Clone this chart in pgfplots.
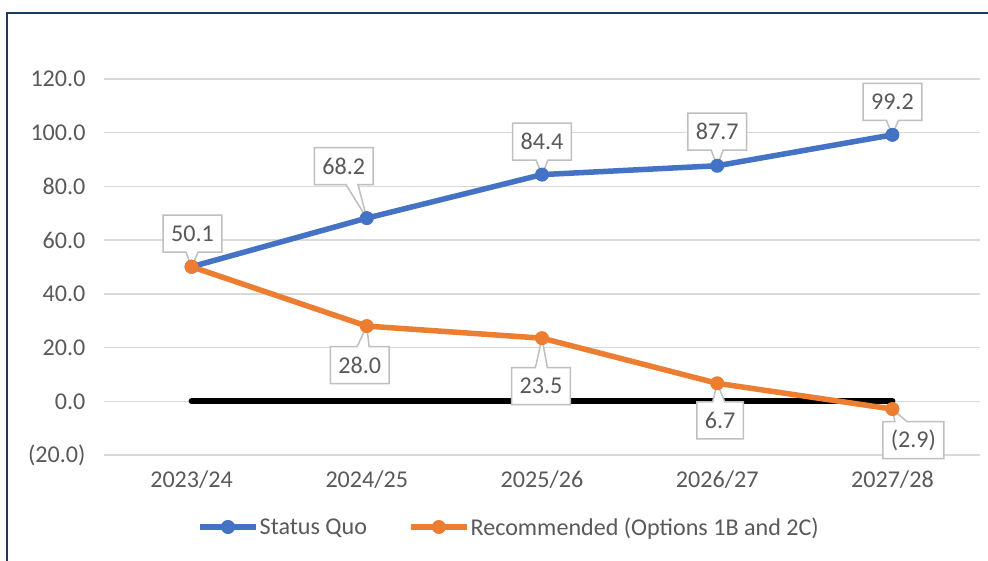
\documentclass[border=0pt]{standalone}
\usepackage{fontspec}
\setmainfont{Carlito}
\usepackage{pgfplots}
\pgfplotsset{compat=1.18}
\usetikzlibrary{shapes.callouts,calc}
\definecolor{sqblue}{HTML}{4472C4}
\definecolor{rcorange}{HTML}{ED7D31}
\definecolor{txt}{HTML}{595959}
\definecolor{grd}{HTML}{D9D9D9}
\definecolor{bxd}{HTML}{BFBFBF}
\definecolor{framec}{HTML}{1F3763}
\newcommand{\fs}{\fontsize{24.1}{28}\selectfont}
\begin{document}
\begin{tikzpicture}[x=1pt,y=1pt,font=\fs,
  lbl/.style={rectangle callout, draw=bxd, fill=white, line width=1.5pt, text=txt,
    minimum height=37pt, inner xsep=8pt, callout pointer width=12pt, font=\fs}]
\begin{axis}[
  at={(104pt,105pt)}, anchor=south west,
  scale only axis, width=876pt, height=376pt,
  xmin=-0.5, xmax=4.5, ymin=-20, ymax=120,
  xtick={0,1,2,3,4}, xticklabels={2023/24,2024/25,2025/26,2026/27,2027/28},
  ytick={-20,0,20,40,60,80,100,120},
  yticklabels={(20.0),0.0,20.0,40.0,60.0,80.0,100.0,120.0},
  /pgf/number format/assume math mode=true,
  ymajorgrids, major grid style={grd, line width=1.5pt},
  axis line style={draw=none},
  major tick length=0pt,
  tick label style={text=txt, font=\fs},
  xticklabel style={yshift=-12pt},
  yticklabel style={xshift=-15pt},
  clip=false,
  legend style={at={(0.4618,-0.1915)}, anchor=center, draw=none, fill=none,
    legend columns=2, font=\fs, text=txt,
    /tikz/every even column/.append style={column sep=40pt},
    nodes={inner xsep=1pt}},
  legend image code/.code={\draw[#1, mark repeat=2, mark phase=2]
     plot coordinates {(0pt,0pt) (28pt,0pt) (56pt,0pt)};},
]
\addplot[black, line width=6pt, line cap=round, forget plot] coordinates {(0,0) (4,0)};
\addplot[sqblue, line width=5.5pt, mark=*, mark size=6.5pt,
  mark options={solid, fill=sqblue, draw=sqblue, line width=1pt}]
  coordinates {(0,50.1) (1,68.2) (2,84.4) (3,87.7) (4,99.2)};
\addlegendentry{Status Quo}
\addplot[rcorange, line width=5.5pt, mark=*, mark size=6.5pt,
  mark options={solid, fill=rcorange, draw=rcorange, line width=1pt}]
  coordinates {(0,50.1) (1,28.0) (2,23.5) (3,6.7) (4,-2.9)};
\addlegendentry{Recommended (Options 1B and 2C)}

\node[lbl, callout absolute pointer={(axis cs:0,50.1)}] at ($(axis cs:0,50.1)+(1pt,33pt)$) {50.1};
\node[lbl, callout absolute pointer={(axis cs:1,68.2)}] at ($(axis cs:1,68.2)+(-23pt,52pt)$) {68.2};
\node[lbl, callout absolute pointer={(axis cs:2,84.4)}] at ($(axis cs:2,84.4)+(0pt,33pt)$) {84.4};
\node[lbl, callout absolute pointer={(axis cs:3,87.7)}] at ($(axis cs:3,87.7)+(0pt,34pt)$) {87.7};
\node[lbl, callout absolute pointer={(axis cs:4,99.2)}] at ($(axis cs:4,99.2)+(0pt,33pt)$) {99.2};
\node[lbl, callout absolute pointer={(axis cs:1,28.0)}] at ($(axis cs:1,28.0)+(-7pt,-39pt)$) {28.0};
\node[lbl, callout absolute pointer={(axis cs:2,23.5)}] at ($(axis cs:2,23.5)+(-1pt,-48pt)$) {23.5};
\node[lbl, callout absolute pointer={(axis cs:3,6.7)}] at ($(axis cs:3,6.7)+(3pt,-37pt)$) {6.7};
\node[lbl, callout absolute pointer={(axis cs:4,-2.9)}] at ($(axis cs:4,-2.9)+(21pt,-31pt)$) {(2.9)};
\end{axis}
\draw[framec, line width=2pt] (7,547) rectangle (1005,-10);
\pgfresetboundingbox
\path[use as bounding box] (0,0) rectangle (988,560);
\end{tikzpicture}
\end{document}
